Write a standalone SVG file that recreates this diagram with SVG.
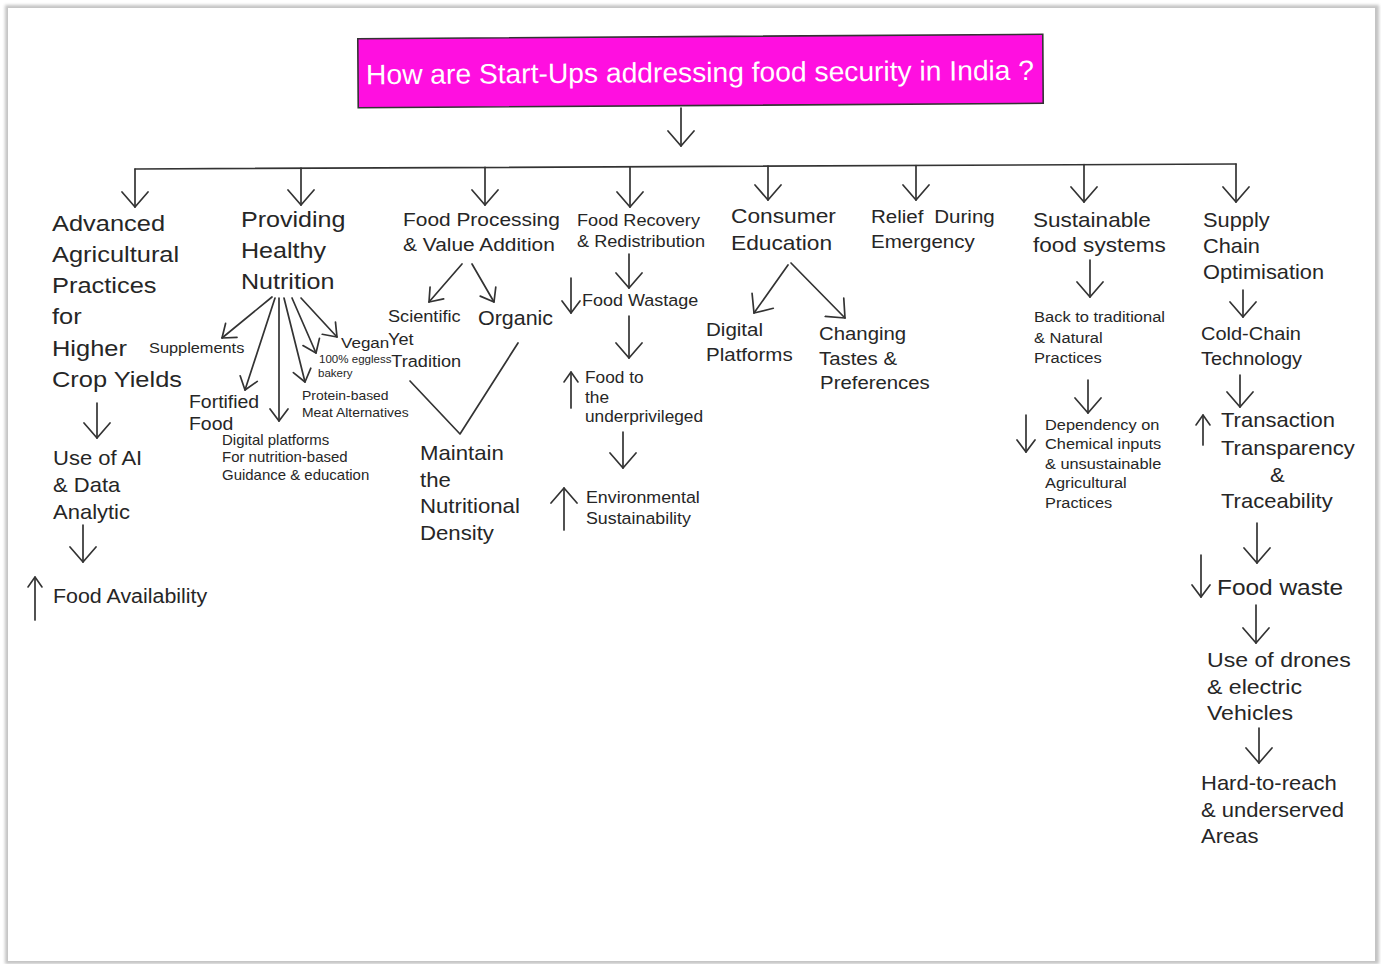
<svg xmlns="http://www.w3.org/2000/svg" width="1381" height="964" viewBox="0 0 1381 964">
  <style>
    .t { font-family: "Liberation Sans", Arial, sans-serif; fill: #262626; }
    .c { fill: none; stroke: #333; stroke-width: 1.7; stroke-linecap: round; stroke-linejoin: round; }
    .big { marker-end: url(#headL); }
    .med { marker-end: url(#headM); }
    .sm { marker-end: url(#headS); }
  </style>
  <defs>
    <filter id="soft" x="-2%" y="-2%" width="104%" height="104%">
      <feGaussianBlur stdDeviation="1.6"/>
    </filter>
    <!-- open chevron arrowheads, tip at the path end -->
    <marker id="headL" viewBox="-16 -15 18 30" markerWidth="18" markerHeight="30" refX="0" refY="0" orient="auto" markerUnits="userSpaceOnUse">
      <path d="M-15,-13 L0,0 L-15,13" fill="none" stroke="#333" stroke-width="1.7" stroke-linecap="round" stroke-linejoin="round"/>
    </marker>
    <marker id="headM" viewBox="-14 -11 16 22" markerWidth="16" markerHeight="22" refX="0" refY="0" orient="auto" markerUnits="userSpaceOnUse">
      <path d="M-12,-9 L0,0 L-12,9" fill="none" stroke="#333" stroke-width="1.7" stroke-linecap="round" stroke-linejoin="round"/>
    </marker>
    <marker id="headS" viewBox="-12 -9 14 18" markerWidth="14" markerHeight="18" refX="0" refY="0" orient="auto" markerUnits="userSpaceOnUse">
      <path d="M-10,-7 L0,0 L-10,7" fill="none" stroke="#333" stroke-width="1.6" stroke-linecap="round" stroke-linejoin="round"/>
    </marker>
  </defs>

  <!-- sheet -->
  <rect x="0" y="0" width="1381" height="964" fill="#fff"/>
  <rect x="5" y="5" width="1374" height="959" fill="#c4c4c4" filter="url(#soft)"/>
  <rect x="8" y="8" width="1367" height="953" fill="#fff"/>

  <!-- title -->
  <g id="title" transform="rotate(-0.37 700 71)">
    <rect x="358" y="36.5" width="685" height="69" fill="#ff0fe0" stroke="#333" stroke-width="1.6"/>
    <text class="t" x="366" y="82" font-size="28" style="fill:#fff" textLength="668" lengthAdjust="spacingAndGlyphs">How are Start-Ups addressing food security in India ?</text>
  </g>

  <!-- connectors -->
  <g id="connectors">
    <path class="c big" d="M681,108 L681,146"/>
    <path class="c" d="M135,169 L1236,164"/>
    <path class="c big" d="M135,169 L135,207"/>
    <path class="c big" d="M301,168.2 L301,205"/>
    <path class="c big" d="M485,167.4 L485,205"/>
    <path class="c big" d="M630,166.8 L630,207"/>
    <path class="c big" d="M768,166.1 L768,200"/>
    <path class="c big" d="M916,165.5 L916,200"/>
    <path class="c big" d="M1084,164.7 L1084,202"/>
    <path class="c big" d="M1236,164 L1236,202"/>

    <!-- agriculture -->
    <path class="c big" d="M97,403 L97,438"/>
    <path class="c big" d="M83,525 L83,562"/>
    <path class="c sm" d="M35,620 L35,577"/>

    <!-- nutrition fan -->
    <path class="c med" d="M272,297 L222,338"/>
    <path class="c med" d="M275,298 L245,390"/>
    <path class="c med" d="M279,298 L279,421"/>
    <path class="c med" d="M284,298 L305,382"/>
    <path class="c med" d="M292,298 L316,353"/>
    <path class="c med" d="M301,298 L337,337"/>

    <!-- processing -->
    <path class="c med" d="M462,264 L429,302"/>
    <path class="c med" d="M472,264 L494,302"/>
    <path class="c" d="M410,381 L460,434 L518,343"/>

    <!-- recovery -->
    <path class="c big" d="M629,254 L629,288"/>
    <path class="c med" d="M571,278 L571,313"/>
    <path class="c big" d="M629,316 L629,358"/>
    <path class="c sm" d="M571,408 L571,372"/>
    <path class="c big" d="M623,432 L623,468"/>
    <path class="c big" d="M564,530 L564,488"/>

    <!-- consumer education -->
    <path class="c big" d="M788,265 L754,313"/>
    <path class="c big" d="M791,263 L845,318"/>

    <!-- sustainable systems -->
    <path class="c big" d="M1090,260 L1090,297"/>
    <path class="c big" d="M1088,380 L1088,413"/>
    <path class="c med" d="M1026,415 L1026,452"/>

    <!-- supply chain -->
    <path class="c big" d="M1243,290 L1243,317"/>
    <path class="c big" d="M1240,375 L1240,407"/>
    <path class="c sm" d="M1203,445 L1203,415"/>
    <path class="c big" d="M1257,523 L1257,563"/>
    <path class="c med" d="M1201,555 L1201,597"/>
    <path class="c big" d="M1256,605 L1256,643"/>
    <path class="c big" d="M1259,728 L1259,763"/>
  </g>

  <!-- nodes -->
  <g id="n-advanced" transform="translate(52,231) scale(1.13,1)">
    <text class="t" font-size="22.5">
      <tspan x="0" y="0">Advanced</tspan>
      <tspan x="0" y="31">Agricultural</tspan>
      <tspan x="0" y="62">Practices</tspan>
      <tspan x="0" y="93">for</tspan>
      <tspan x="0" y="125">Higher</tspan>
      <tspan x="0" y="156">Crop Yields</tspan>
    </text>
  </g>
  <g id="n-ai" transform="translate(53,465) scale(1.1,1)">
    <text class="t" font-size="20">
      <tspan x="0" y="0">Use of AI</tspan>
      <tspan x="0" y="27">&amp; Data</tspan>
      <tspan x="0" y="54">Analytic</tspan>
    </text>
  </g>
  <g id="n-availability" transform="translate(53,603) scale(1.07,1)">
    <text class="t" font-size="20">Food Availability</text>
  </g>

  <g id="n-nutrition" transform="translate(241,227) scale(1.14,1)">
    <text class="t" font-size="22">
      <tspan x="0" y="0">Providing</tspan>
      <tspan x="0" y="31">Healthy</tspan>
      <tspan x="0" y="62">Nutrition</tspan>
    </text>
  </g>
  <g id="n-supplements" transform="translate(149,353) scale(1.09,1)">
    <text class="t" font-size="15">Supplements</text>
  </g>
  <g id="n-fortified" transform="translate(189,408) scale(1.08,1)">
    <text class="t" font-size="18">
      <tspan x="0" y="0">Fortified</tspan>
      <tspan x="0" y="22">Food</tspan>
    </text>
  </g>
  <g id="n-digital-nutrition" transform="translate(222,445) scale(1.07,1)">
    <text class="t" font-size="14">
      <tspan x="0" y="0">Digital platforms</tspan>
      <tspan x="0" y="17">For nutrition-based</tspan>
      <tspan x="0" y="35">Guidance &amp; education</tspan>
    </text>
  </g>
  <g id="n-protein" transform="translate(302,400) scale(1.07,1)">
    <text class="t" font-size="13">
      <tspan x="0" y="0">Protein-based</tspan>
      <tspan x="0" y="17">Meat Alternatives</tspan>
    </text>
  </g>
  <g id="n-eggless" transform="translate(319,363) scale(1.05,1)">
    <text class="t" font-size="11">
      <tspan x="0" y="0">100% eggless</tspan>
      <tspan x="-1" y="14">bakery</tspan>
    </text>
  </g>
  <g id="n-vegan" transform="translate(341,348) scale(1.1,1)">
    <text class="t" font-size="15.5">Vegan</text>
  </g>

  <g id="n-processing" transform="translate(403,226) scale(1.1,1)">
    <text class="t" font-size="19">
      <tspan x="0" y="0">Food Processing</tspan>
      <tspan x="0" y="25">&amp; Value Addition</tspan>
    </text>
  </g>
  <g id="n-scientific" transform="translate(388,322) scale(1.1,1)">
    <text class="t" font-size="16.5">
      <tspan x="0" y="0">Scientific</tspan>
      <tspan x="0" y="23">Yet</tspan>
      <tspan x="3" y="45">Tradition</tspan>
    </text>
  </g>
  <g id="n-organic" transform="translate(478,325) scale(1.1,1)">
    <text class="t" font-size="19.5">Organic</text>
  </g>
  <g id="n-maintain" transform="translate(420,460) scale(1.11,1)">
    <text class="t" font-size="20">
      <tspan x="0" y="0">Maintain</tspan>
      <tspan x="0" y="27">the</tspan>
      <tspan x="0" y="53">Nutritional</tspan>
      <tspan x="0" y="80">Density</tspan>
    </text>
  </g>

  <g id="n-recovery" transform="translate(577,226) scale(1.1,1)">
    <text class="t" font-size="16.5">
      <tspan x="0" y="0">Food Recovery</tspan>
      <tspan x="0" y="21">&amp; Redistribution</tspan>
    </text>
  </g>
  <g id="n-wastage" transform="translate(582,306) scale(1.09,1)">
    <text class="t" font-size="16.5">Food Wastage</text>
  </g>
  <g id="n-underprivileged" transform="translate(585,383) scale(1.08,1)">
    <text class="t" font-size="16">
      <tspan x="0" y="0">Food to</tspan>
      <tspan x="0" y="20">the</tspan>
      <tspan x="0" y="39">underprivileged</tspan>
    </text>
  </g>
  <g id="n-environment" transform="translate(586,503) scale(1.08,1)">
    <text class="t" font-size="16.5">
      <tspan x="0" y="0">Environmental</tspan>
      <tspan x="0" y="21">Sustainability</tspan>
    </text>
  </g>

  <g id="n-consumer" transform="translate(731,223) scale(1.11,1)">
    <text class="t" font-size="20.5">
      <tspan x="0" y="0">Consumer</tspan>
      <tspan x="0" y="27">Education</tspan>
    </text>
  </g>
  <g id="n-digital-platforms" transform="translate(706,336) scale(1.11,1)">
    <text class="t" font-size="18.5">
      <tspan x="0" y="0">Digital</tspan>
      <tspan x="0" y="25">Platforms</tspan>
    </text>
  </g>
  <g id="n-tastes" transform="translate(819,340) scale(1.1,1)">
    <text class="t" font-size="18.5">
      <tspan x="0" y="0">Changing</tspan>
      <tspan x="0" y="25">Tastes &amp;</tspan>
      <tspan x="1" y="49">Preferences</tspan>
    </text>
  </g>

  <g id="n-relief" transform="translate(871,223) scale(1.11,1)">
    <text class="t" font-size="18.5">
      <tspan x="0" y="0">Relief</tspan>
      <tspan x="57" y="0">During</tspan>
      <tspan x="0" y="25">Emergency</tspan>
    </text>
  </g>

  <g id="n-sustainable" transform="translate(1033,227) scale(1.1,1)">
    <text class="t" font-size="20.5">
      <tspan x="0" y="0">Sustainable</tspan>
      <tspan x="0" y="25">food systems</tspan>
    </text>
  </g>
  <g id="n-traditional" transform="translate(1034,322) scale(1.1,1)">
    <text class="t" font-size="15">
      <tspan x="0" y="0">Back to traditional</tspan>
      <tspan x="0" y="21">&amp; Natural</tspan>
      <tspan x="0" y="41">Practices</tspan>
    </text>
  </g>
  <g id="n-chemical" transform="translate(1045,430) scale(1.09,1)">
    <text class="t" font-size="15">
      <tspan x="0" y="0">Dependency on</tspan>
      <tspan x="0" y="19.5">Chemical inputs</tspan>
      <tspan x="0" y="39">&amp; unsustainable</tspan>
      <tspan x="0" y="58">Agricultural</tspan>
      <tspan x="0" y="78">Practices</tspan>
    </text>
  </g>

  <g id="n-supply" transform="translate(1203,227) scale(1.09,1)">
    <text class="t" font-size="20">
      <tspan x="0" y="0">Supply</tspan>
      <tspan x="0" y="26">Chain</tspan>
      <tspan x="0" y="52">Optimisation</tspan>
    </text>
  </g>
  <g id="n-coldchain" transform="translate(1201,340) scale(1.08,1)">
    <text class="t" font-size="18.5">
      <tspan x="0" y="0">Cold-Chain</tspan>
      <tspan x="0" y="25">Technology</tspan>
    </text>
  </g>
  <g id="n-transparency" transform="translate(1221,427) scale(1.1,1)">
    <text class="t" font-size="20">
      <tspan x="0" y="0">Transaction</tspan>
      <tspan x="0" y="28">Transparency</tspan>
      <tspan x="44.5" y="55">&amp;</tspan>
      <tspan x="0" y="81">Traceability</tspan>
    </text>
  </g>
  <g id="n-foodwaste" transform="translate(1217,595) scale(1.11,1)">
    <text class="t" font-size="22">Food waste</text>
  </g>
  <g id="n-drones" transform="translate(1207,667) scale(1.1,1)">
    <text class="t" font-size="21">
      <tspan x="0" y="0">Use of drones</tspan>
      <tspan x="0" y="27">&amp; electric</tspan>
      <tspan x="0" y="53">Vehicles</tspan>
    </text>
  </g>
  <g id="n-areas" transform="translate(1201,790) scale(1.1,1)">
    <text class="t" font-size="20">
      <tspan x="0" y="0">Hard-to-reach</tspan>
      <tspan x="0" y="27">&amp; underserved</tspan>
      <tspan x="0" y="53">Areas</tspan>
    </text>
  </g>
</svg>
